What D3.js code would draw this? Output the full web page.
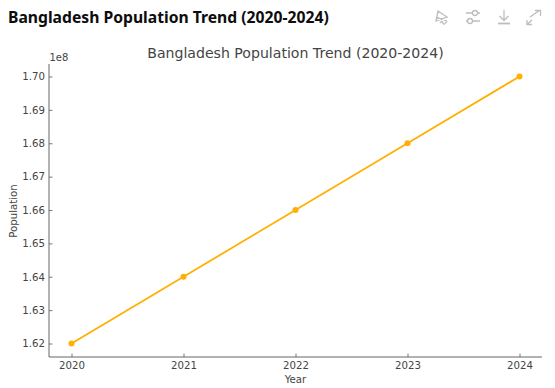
<!DOCTYPE html>
<html>
<head>
<meta charset="utf-8">
<script src="https://cdn.jsdelivr.net/npm/d3@7"></script>
<style>
    html, body { margin: 0; padding: 0; background: #fff; overflow: hidden; }
    text { font-family: "DejaVu Sans", sans-serif; }
</style>
</head>
<body>
<div id="chart"></div>
<script>
const years = [2020, 2021, 2022, 2023, 2024];
const population = [162000000, 164000000, 166000000, 168000000, 170000000];
const yTicks = [162000000, 163000000, 164000000, 165000000, 166000000, 167000000, 168000000, 169000000, 170000000];

const width = 555;
const height = 388;
const margin = { top: 64, right: 13, bottom: 31, left: 49 };

const svg = d3.select("#chart")
    .append("svg")
    .attr("width", width)
    .attr("height", height);

const xScale = d3.scaleLinear()
    .domain([2020, 2024])
    .range([71.5, 519.5]);

const yScale = d3.scaleLinear()
    .domain([162000000, 170000000])
    .range([343.5, 76.5]);

// card heading
svg.append("text")
    .attr("x", 8)
    .attr("y", 23)
    .attr("font-size", 15.7)
    .attr("font-weight", "bold")
    .attr("fill", "#0d0d0d")
    .style("font-family", "'Noto Sans', sans-serif")
    .text("Bangladesh Population Trend (2020-2024)");

// chart title
svg.append("text")
    .attr("x", 295.5)
    .attr("y", 58)
    .attr("text-anchor", "middle")
    .attr("font-size", 14.1)
    .attr("fill", "#444")
    .text("Bangladesh Population Trend (2020-2024)");

// axes, ticks point inward like the original
const xAxis = d3.axisBottom(xScale)
    .tickValues(years)
    .tickFormat(d3.format("d"))
    .tickSize(-3.5)
    .tickPadding(5);

const yAxis = d3.axisLeft(yScale)
    .tickValues(yTicks)
    .tickFormat(d => (d / 1e8).toFixed(2))
    .tickSize(-3.5)
    .tickPadding(4);

const xG = svg.append("g")
    .attr("transform", `translate(0, ${height - margin.bottom})`)
    .call(xAxis);

const yG = svg.append("g")
    .attr("transform", `translate(${margin.left}, 0)`)
    .call(yAxis);

[xG, yG].forEach(g => {
    g.selectAll("text").attr("font-size", 10.2).attr("fill", "#444").style("font-family", "'DejaVu Sans', sans-serif");
    g.selectAll("line").attr("stroke", "#555").attr("stroke-width", 0.8);
    g.select(".domain").remove();
});

// left and bottom spines
svg.append("path")
    .attr("d", d3.line()([[margin.left, margin.top], [margin.left, height - margin.bottom], [width - margin.right, height - margin.bottom]]))
    .attr("fill", "none")
    .attr("stroke", "#666")
    .attr("stroke-width", 1);

svg.append("text")
    .attr("x", 49.5)
    .attr("y", 61)
    .attr("font-size", 10)
    .attr("fill", "#444")
    .text("1e8");

svg.append("text")
    .attr("x", 295.5)
    .attr("y", 383)
    .attr("text-anchor", "middle")
    .attr("font-size", 10.2)
    .attr("fill", "#444")
    .text("Year");

svg.append("text")
    .attr("transform", "translate(17, 211) rotate(-90)")
    .attr("text-anchor", "middle")
    .attr("font-size", 10.2)
    .attr("fill", "#444")
    .text("Population");

// series
const line = d3.line()
    .x((d, i) => xScale(years[i]))
    .y(d => yScale(d));

svg.append("path")
    .datum(population)
    .attr("d", line)
    .attr("fill", "none")
    .attr("stroke", "#ffb000")
    .attr("stroke-width", 1.8);

svg.selectAll(".dot")
    .data(population)
    .enter()
    .append("circle")
    .attr("class", "dot")
    .attr("cx", (d, i) => xScale(years[i]))
    .attr("cy", d => yScale(d))
    .attr("r", 3)
    .attr("fill", "#ffb000");

// toolbar icons
const icons = svg.append("g")
    .attr("fill", "none")
    .attr("stroke", "#bdbdbd")
    .attr("stroke-width", 1.3);

icons.append("path").attr("d", "M438 11 L436 21 L447 17 Z M436 17 L447 21 M440 23 Q442 20 443 23 T447 21");
icons.append("path").attr("d", "M466 13 H480 M466 21 H480");
icons.append("circle").attr("cx", 475).attr("cy", 13).attr("r", 2.5).attr("fill", "#fff");
icons.append("circle").attr("cx", 470).attr("cy", 21).attr("r", 2.5).attr("fill", "#fff");
icons.append("path").attr("d", "M504 10 V20 M499.5 16 L504 20.5 L508.5 16");
icons.append("path").attr("d", "M498 23.5 H510").attr("stroke-width", 1.8);
icons.append("path").attr("d", "M530 17 L540 10 M535 10.5 H540.5 V16 M527 20 V24.5 H532 M527.5 24 L532 20");
</script>
</body>
</html>
